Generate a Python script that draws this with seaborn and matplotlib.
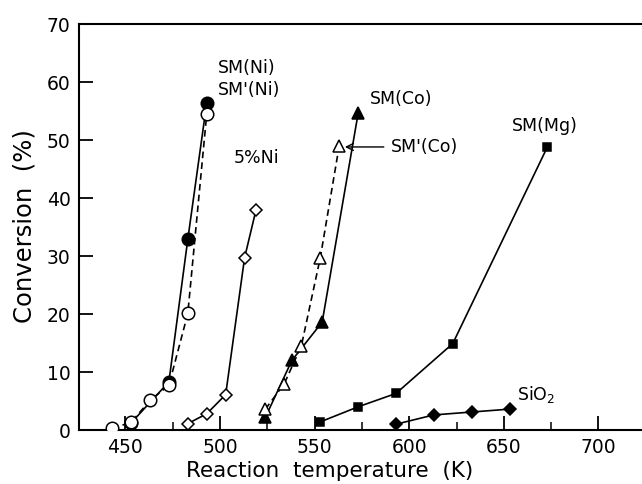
import matplotlib
matplotlib.use("Agg")
import matplotlib.pyplot as plt
import seaborn as sns
import numpy as np
from matplotlib.ticker import MultipleLocator

sns.set_theme(style="white")
plt.rcParams['font.family'] = ['DejaVu Sans']
plt.rcParams['text.color'] = 'black'
plt.rcParams['axes.labelcolor'] = 'black'

# Data
smni_t = [453, 473, 483, 493]
smni_c = [1.2, 8.3, 32.9, 56.4]
smpni_t = [443, 453, 463, 473, 483, 493]
smpni_c = [0.3, 1.3, 5.1, 7.7, 20.1, 54.5]
ni5_t = [483, 493, 503, 513, 519]
ni5_c = [1.1, 2.8, 6.1, 29.7, 37.9]
smco_t = [524, 538, 554, 573]
smco_c = [2.2, 12.0, 18.6, 54.6]
smpco_t = [524, 534, 543, 553, 563]
smpco_c = [3.6, 8.0, 14.5, 29.7, 49.0]
smmg_t = [553, 573, 593, 623, 673]
smmg_c = [1.4, 4.0, 6.3, 14.9, 48.8]
sio2_t = [593, 613, 633, 653]
sio2_c = [1.0, 2.6, 3.1, 3.6]

fig = plt.figure(figsize=(6.42, 4.84), dpi=100)
ax = fig.add_axes([79/642, 1-430/484, 1-79/642, (430-24)/484])

lw = 1.2
def draw(t, c, marker, ms, filled, ls):
    sns.lineplot(x=t, y=c, ax=ax, sort=False, color='black', linewidth=lw,
                 linestyle=ls, marker=marker, markersize=ms,
                 markerfacecolor='black' if filled else 'white',
                 markeredgecolor='black', markeredgewidth=1.1, zorder=3)

draw(smni_t, smni_c, 'o', 9, True, '-')
draw(smpni_t, smpni_c, 'o', 9, False, (0, (4, 2.5)))
draw(ni5_t, ni5_c, 'D', 6.5, False, '-')
draw(smco_t, smco_c, '^', 8, True, '-')
draw(smpco_t, smpco_c, '^', 8, False, (0, (4, 2.5)))
draw(smmg_t, smmg_c, 's', 6, True, '-')
draw(sio2_t, sio2_c, 'D', 6.5, True, '-')

ax.set_xlim(425.5, 723)
ax.set_ylim(0, 70)
ax.xaxis.set_major_locator(MultipleLocator(50))
ax.xaxis.set_minor_locator(MultipleLocator(25))
ax.yaxis.set_major_locator(MultipleLocator(10))
ax.tick_params(axis='both', which='major', direction='in', length=10, width=1.3,
               labelsize=13.5, colors='black', pad=6)
ax.tick_params(axis='x', which='minor', direction='in', length=6, width=1.3)
ax.tick_params(axis='x', which='both', bottom=True, top=False)
ax.tick_params(axis='y', which='both', left=True, right=False)
for s in ['left', 'bottom', 'top']:
    ax.spines[s].set_visible(True)
    ax.spines[s].set_color('black')
    ax.spines[s].set_linewidth(1.5)
ax.spines['right'].set_visible(False)

ax.set_xlabel('Reaction  temperature  (K)', fontsize=15.5, color='black')
ax.set_ylabel('Conversion  (%)', fontsize=17.5, color='black')
axw = 642 - 79
axh = 430 - 24
ax.xaxis.set_label_coords((330 - 79) / axw, -(471 - 430) / axh)
ax.yaxis.set_label_coords(-(79 - 25) / axw, (430 - 226) / axh)
ax.xaxis.label.set_va('center')
ax.yaxis.label.set_va('center')

fs = 12.5
ax.text(499, 62.4, 'SM(Ni)', fontsize=fs, va='center', ha='left')
ax.text(499, 58.6, "SM'(Ni)", fontsize=fs, va='center', ha='left')
ax.text(507.5, 46.9, '5%Ni', fontsize=fs, va='center', ha='left')
ax.text(579, 57.0, 'SM(Co)', fontsize=fs, va='center', ha='left')
ax.annotate("SM'(Co)", xy=(566, 48.8), xytext=(590.5, 48.8), fontsize=fs, va='center', ha='left',
            arrowprops=dict(arrowstyle='->', color='black', lw=1.0, shrinkA=3, shrinkB=0))
ax.text(654, 52.4, 'SM(Mg)', fontsize=fs, va='center', ha='left')
ax.text(657, 6.2, 'SiO$_2$', fontsize=fs, va='center', ha='left')

fig.savefig('out.png', dpi=100)
